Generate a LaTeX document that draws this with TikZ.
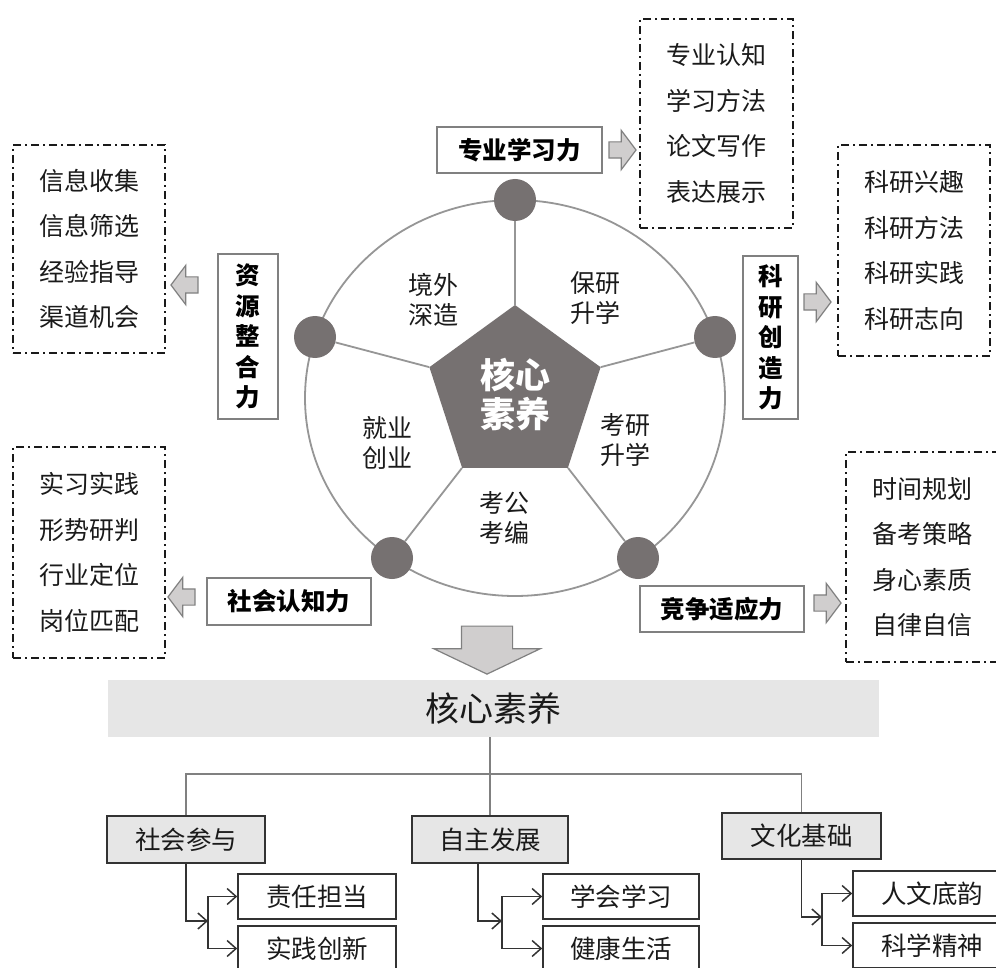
\documentclass[tikz,border=0pt]{standalone}
\usepackage{fontspec}
\setmainfont{Noto Sans CJK SC}
\usepackage{tikz}
\usetikzlibrary{arrows.meta,shapes.geometric,shapes.arrows}
\definecolor{col1}{RGB}{118,113,113}
\definecolor{col2}{RGB}{150,150,150}
\definecolor{col3}{RGB}{208,206,206}
\definecolor{col4}{RGB}{128,128,128}
\definecolor{col5}{RGB}{230,230,230}
\definecolor{col6}{RGB}{51,51,51}
\definecolor{col7}{RGB}{26,26,26}
\tikzstyle{ring}=[draw=col2, line width=1.8pt]
\tikzstyle{spoke}=[draw=col2, line width=1.8pt]
\tikzstyle{dot}=[circle, fill=col1, minimum size=42pt, inner sep=0pt]
\tikzstyle{sector}=[align=center, text=col7, font=\fontsize{25}{29.5}\selectfont]
\tikzstyle{skill}=[draw=col4, line width=1.2pt, fill=white, align=center, text=black, inner sep=0pt, font=\bfseries\fontsize{24.5}{30.5}\selectfont]
\tikzstyle{items}=[draw=col7, line width=1.4pt, dash pattern=on 8pt off 4pt on 2pt off 4pt, align=center, text=col7, inner sep=0pt, minimum width=152pt, minimum height=210pt, font=\fontsize{25}{45.5}\selectfont]
\tikzstyle{blockarrow}=[single arrow, draw=col4, fill=col3, line width=1.2pt, inner xsep=0pt, inner ysep=7.5pt, single arrow head extend=11.5pt, single arrow tip angle=106, minimum height=27pt]
\tikzstyle{group}=[draw=col6, line width=1.8pt, fill=col5, text=col7, minimum width=158pt, minimum height=47pt, font=\fontsize{25.5}{25.5}\selectfont]
\tikzstyle{kid}=[draw=col6, line width=1.6pt, fill=white, text=col7, minimum width=158pt, minimum height=45pt, font=\fontsize{25.5}{25.5}\selectfont]
\tikzstyle{tline}=[draw=col4, line width=1.5pt]
\tikzstyle{tarrow}=[draw=col6, line width=1.5pt, -{Straight Barb[length=9pt,width=16pt]}]
\begin{document}
\begin{tikzpicture}[x=1pt,y=-1pt]
    \useasboundingbox[fill=white] (0,0) rectangle (996,968);
    % wheel
    \draw[ring] (515,398) ellipse [x radius=210pt, y radius=198pt];
    \foreach \n/\p in {dT/{(515,200)}, dL/{(315,337)}, dBL/{(392,558)}, dBR/{(638,558)}, dR/{(715,337)}}
        \node[dot] (\n) at \p {};
    \node[regular polygon, regular polygon sides=5, minimum size=180pt, inner sep=0pt, fill=col1, text=white, align=center, font=\bfseries\fontsize{35}{39}\selectfont] (core) at (515,395) {核心\\素养};
    \foreach \k/\d in {1/dT,2/dL,3/dBL,4/dBR,5/dR}
        \draw[spoke] (core.corner \k) -- (\d);
    \node[sector] (sA) at (433,300) {境外\\深造};
    \node[sector] (sB) at (595,298) {保研\\升学};
    \node[sector] (sC) at (387,443) {就业\\创业};
    \node[sector] (sD) at (625,440) {考研\\升学};
    \node[sector] (sE) at (504,518) {考公\\考编};
    % abilities
    \node[skill, minimum width=165pt, minimum height=46pt] (study) at (519.5,150) {专业学习力};
    \node[skill, minimum width=60pt, minimum height=165pt] (res) at (248,336.5) {资\\源\\整\\合\\力};
    \node[skill, minimum width=55pt, minimum height=163pt] (sci) at (770.5,337.5) {科\\研\\创\\造\\力};
    \node[skill, minimum width=164pt, minimum height=47pt] (soc) at (289,601.5) {社会认知力};
    \node[skill, minimum width=164pt, minimum height=46pt] (comp) at (722,609) {竞争适应力};
    \node[blockarrow] (arStudy) at (619.5,150) {};
    \node[blockarrow, rotate=180] (arRes) at (187.5,285) {};
    \node[blockarrow] (arSci) at (814.5,302) {};
    \node[blockarrow, rotate=180] (arSoc) at (184.5,597) {};
    \node[blockarrow] (arComp) at (824.5,603) {};
    \node[items, minimum width=153pt, minimum height=209pt] (lstStudy) at (716.5,123.5) {专业认知\\学习方法\\论文写作\\表达展示};
    \node[items, minimum height=208pt] (lstRes) at (89,249) {信息收集\\信息筛选\\经验指导\\渠道机会};
    \node[items, minimum height=211pt] (lstSci) at (914,250.5) {科研兴趣\\科研方法\\科研实践\\科研志向};
    \node[items, minimum height=211pt] (lstSoc) at (89,552.5) {实习实践\\形势研判\\行业定位\\岗位匹配};
    \node[items] (lstComp) at (922,557) {时间规划\\备考策略\\身心素质\\自律自信};
    % summary
    \node[blockarrow, rotate=-90, inner ysep=25pt, single arrow head extend=27.5pt, single arrow tip angle=129, minimum height=48pt] (arDown) at (487,644) {};
    \node[fill=col5, minimum width=771pt, minimum height=57pt, text=col7, font=\fontsize{34}{36}\selectfont] (banner) at (493.5,708.5) {核心素养};
    \node[group] (grpA) at (186,839.5) {社会参与};
    \node[group, minimum width=156pt] (grpB) at (490,839.5) {自主发展};
    \node[group, minimum width=159pt, minimum height=46pt] (grpC) at (801.5,836) {文化基础};
    \node[kid] (kA1) at (317,896.5) {责任担当};
    \node[kid] (kA2) at (317,948.5) {实践创新};
    \node[kid, minimum width=156pt] (kB1) at (621,896.5) {学会学习};
    \node[kid, minimum width=156pt] (kB2) at (621,948.5) {健康生活};
    \node[kid] (kC1) at (932,893.5) {人文底韵};
    \node[kid] (kC2) at (932,945.5) {科学精神};
    \coordinate (bus) at (490,774);
    \coordinate (jA) at (208,921);
    \coordinate (jB) at (502,921);
    \coordinate (jC) at (822,917);
    \draw[tline] (bus |- banner.south) -- (grpB.north);
    \draw[tline] (grpA.north) |- (bus) -| (grpC.north);
    \draw[tarrow] (grpA.south) |- (jA);
    \draw[tarrow] ([xshift=-12pt]grpB.south) |- (jB);
    \draw[tarrow] (grpC.south) |- (jC);
    \foreach \j/\a/\b in {jA/kA1/kA2, jB/kB1/kB2, jC/kC1/kC2} {
        \draw[tarrow] (\j) |- (\a.west);
        \draw[tarrow] (\j) |- (\b.west);
    }
\end{tikzpicture}
\end{document}
